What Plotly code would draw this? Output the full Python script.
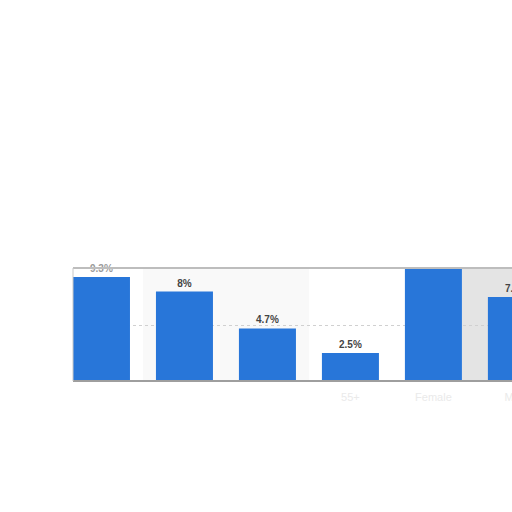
import plotly.graph_objects as go

# values (fifth bar runs past the top of the frame)
categories = ["18-29", "30-44", "45-54", "55+", "Female", "Male"]
values = [9.3, 8.0, 4.7, 2.5, 10.1, 7.5]
labels = ["9.3%", "8%", "4.7%", "2.5%", "", "7.5%"]
label_colors = ["#9a9a9a", "#444444", "#444444", "#444444", "#444444", "#444444"]
tick_colors = ["#ffffff", "#ffffff", "#ffffff", "#eaeaea", "#eaeaea", "#eaeaea"]

ticktext = [f'<span style="color:{c}">{t}</span>' for t, c in zip(categories, tick_colors)]

fig = go.Figure()
fig.add_trace(go.Bar(
    x=list(range(len(categories))),
    y=values,
    text=[f"<b>{t}</b>" if t else "" for t in labels],
    textposition="outside",
    textfont=dict(family="Arial, Liberation Sans", size=10, color=label_colors),
    marker=dict(color="#2876d9", line=dict(width=0)),
    cliponaxis=False,
))

# background bands and frame
fig.add_shape(type="rect", xref="x", yref="paper", x0=0.5, x1=2.5, y0=0, y1=1,
              fillcolor="#f9f9f9", line_width=0, layer="below")
fig.add_shape(type="rect", xref="x", yref="paper", x0=4.343, x1=5.6, y0=0, y1=1,
              fillcolor="#e4e4e4", line_width=0, layer="below")
fig.add_shape(type="line", xref="paper", yref="paper", x0=0, x1=1, y0=1, y1=1,
              line=dict(color="#bdbdbd", width=2))
fig.add_shape(type="line", xref="paper", yref="paper", x0=0, x1=1, y0=0, y1=0,
              line=dict(color="#9e9e9e", width=2))
fig.add_shape(type="line", xref="paper", yref="paper", x0=0, x1=0, y0=0, y1=1,
              line=dict(color="#c8c8c8", width=1))

# the chart runs past the right edge of the window, as in the reference
fig.update_layout(
    width=533, height=512,
    margin=dict(l=73, r=0, t=268, b=131),
    paper_bgcolor="white",
    plot_bgcolor="white",
    bargap=0.313,
    showlegend=False,
    font=dict(family="Arial, Liberation Sans"),
)
fig.update_xaxes(
    range=[-0.343, 5.2],
    tickmode="array",
    tickvals=list(range(len(categories))),
    ticktext=ticktext,
    tickfont=dict(size=11),
    ticks="outside", ticklen=6, tickcolor="rgba(0,0,0,0)",
    showgrid=False, zeroline=False, showline=False,
)
fig.update_yaxes(
    range=[0, 10.1],
    tickvals=[5],
    showticklabels=False,
    showgrid=True, gridcolor="#d0d0d0", griddash="dot", gridwidth=1,
    zeroline=False, showline=False,
)

# drop the default page margin / scrollbars so the figure sits flush in the window
fig.write_html(
    "out.html",
    config={"displayModeBar": False},
    post_script="document.body.style.margin='0';document.body.style.overflow='hidden';",
)
